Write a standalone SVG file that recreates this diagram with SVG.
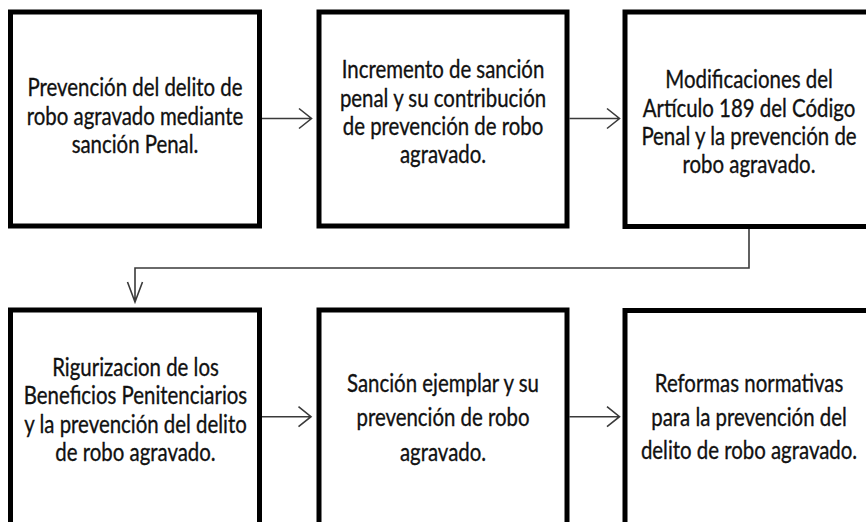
<svg xmlns="http://www.w3.org/2000/svg" width="866" height="522" viewBox="0 0 866 522">
<style>
  .box { fill: #ffffff; stroke: #000000; stroke-width: 5; }
  .conn { fill: none; stroke: #3a3a3a; stroke-width: 1.6; }
  .t { font-family: Lato, "Open Sans", sans-serif; font-size: 25.5px; fill: #111111; stroke: #111111; stroke-width: 0.35; text-anchor: middle; }
</style>
<rect x="0" y="0" width="866" height="522" fill="#ffffff"/>
<g id="connectors">
  <path class="conn" d="M262,118.5 H311.5 M299,108.5 L311.5,118.5 L299,128.5"/>
  <path class="conn" d="M569.5,118.5 H619.5 M607,108.5 L619.5,118.5 L607,128.5"/>
  <path class="conn" d="M749,229 V268 H135 V302 M127.5,282 L135,302 L142.5,282"/>
  <path class="conn" d="M262,416.7 H311 M298.5,406.7 L311,416.7 L298.5,426.7"/>
  <path class="conn" d="M569.5,416.7 H619.5 M607,406.7 L619.5,416.7 L607,426.7"/>
</g>
<g id="n1">
  <rect class="box" x="10.5" y="12" width="249" height="214"/>
  <g transform="translate(135,0) scale(0.8,1)">
    <text class="t" x="0" y="96.3">Prevención del delito de</text>
    <text class="t" x="0" y="124.7">robo agravado mediante</text>
    <text class="t" x="0" y="153.1">sanción Penal.</text>
  </g>
</g>
<g id="n2">
  <rect class="box" x="319" y="12" width="248" height="214"/>
  <g transform="translate(443,0) scale(0.8,1)">
    <text class="t" x="0" y="78.3">Incremento de sanción</text>
    <text class="t" x="0" y="106.7">penal y su contribución</text>
    <text class="t" x="0" y="135">de prevención de robo</text>
    <text class="t" x="0" y="163.3">agravado.</text>
  </g>
</g>
<g id="n3">
  <rect class="box" x="625" y="12" width="248" height="214.5"/>
  <g transform="translate(749,0) scale(0.8,1)">
    <text class="t" x="0" y="88.3">Modificaciones del</text>
    <text class="t" x="0" y="116.6">Artículo 189 del Código</text>
    <text class="t" x="0" y="144.9">Penal y la prevención de</text>
    <text class="t" x="0" y="173.2">robo agravado.</text>
  </g>
</g>
<g id="n4">
  <rect class="box" x="10.5" y="310" width="249" height="222"/>
  <g transform="translate(135.5,0) scale(0.8,1)">
    <text class="t" x="0" y="376">Rigurizacion de los</text>
    <text class="t" x="0" y="404.3">Beneficios Penitenciarios</text>
    <text class="t" x="0" y="432.6">y la prevención del delito</text>
    <text class="t" x="0" y="460.9">de robo agravado.</text>
  </g>
</g>
<g id="n5">
  <rect class="box" x="319" y="310" width="248" height="222"/>
  <g transform="translate(443,0) scale(0.8,1)">
    <text class="t" x="0" y="391.7">Sanción ejemplar y su</text>
    <text class="t" x="0" y="425.7">prevención de robo</text>
    <text class="t" x="0" y="460.7">agravado.</text>
  </g>
</g>
<g id="n6">
  <rect class="box" x="625" y="310.5" width="248" height="222"/>
  <g transform="translate(749,0) scale(0.8,1)">
    <text class="t" x="0" y="391.7">Reformas normativas</text>
    <text class="t" x="0" y="425.7">para la prevención del</text>
    <text class="t" x="0" y="459.3">delito de robo agravado.</text>
  </g>
</g>
</svg>
